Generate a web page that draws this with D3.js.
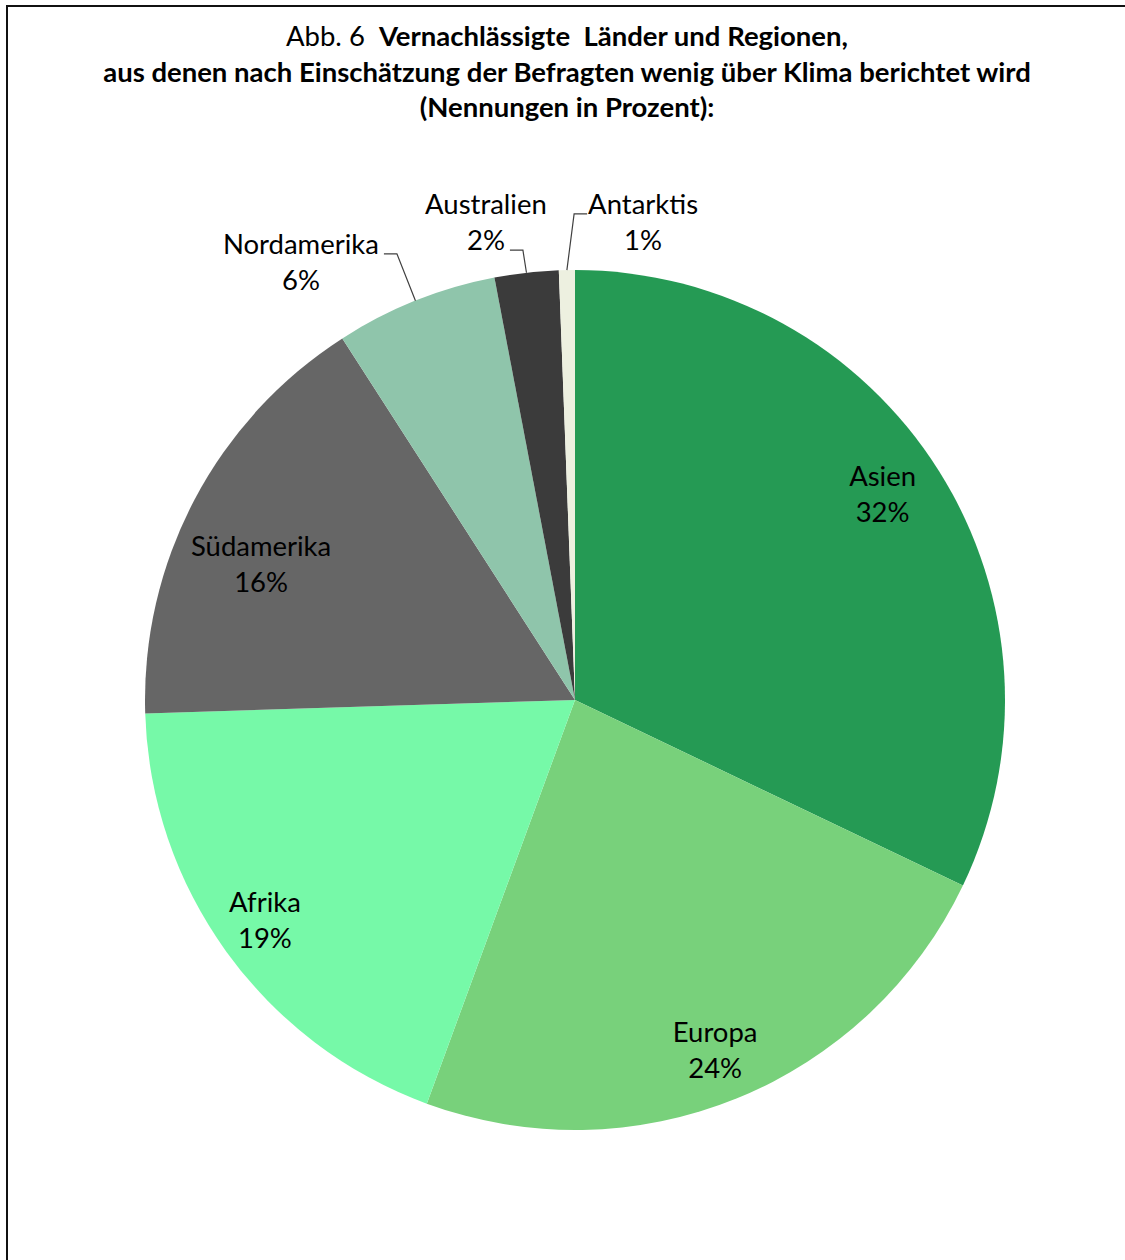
<!DOCTYPE html>
<html>
<head>
<meta charset="utf-8">
<script src="https://cdn.jsdelivr.net/npm/d3@7"></script>
<style>
  html, body { margin: 0; padding: 0; background: #fff; }
  svg { display: block; }
  text { font-family: Lato, "Open Sans", sans-serif; fill: #000; }
</style>
</head>
<body>
<div id="chart"></div>
<script>
// data (shares in percent, labels rounded)
var regions = ["Asien", "Europa", "Afrika", "Südamerika", "Nordamerika", "Australien", "Antarktis"];
var shares = [32.1, 23.5, 18.9, 16.4, 6.1, 2.4, 0.6];
var shareLabels = ["32%", "24%", "19%", "16%", "6%", "2%", "1%"];
var colors = ["#259a54", "#78d17b", "#76f9a8", "#666666", "#8fc5ab", "#3b3b3b", "#edf0e0"];

var titleLines = [
  [["Abb. 6  ", "normal"], ["Vernachlässigte  Länder und Regionen,", "bold"]],
  [["aus denen nach Einschätzung der Befragten wenig über Klima berichtet wird", "bold"]],
  [["(Nennungen in Prozent):", "bold"]]
];

// label placement (angle nudge in degrees from slice middle, radius factor)
var labelNudge = [-1.5, 0.4, 0.3, -4.4, -10.3, -4.1, 9.2];
var labelRadius = [0.86, 0.88, 0.886, 0.795, 1.2, 1.128, 1.121];
var leaderRow = [null, null, null, null, 0, 1, 0];

var width = 1125,
	height = 1260,
	cx = 575,
	cy = 700,
	radius = 430;

var svg = d3.select("#chart").append("svg")
	.attr("width", width)
	.attr("height", height);

//frame, runs off the right and bottom of the picture
svg.append("rect")
	.attr("x", 7).attr("y", 6)
	.attr("width", width + 20).attr("height", height + 20)
	.attr("fill", "none")
	.attr("stroke", "#111")
	.attr("stroke-width", 2);

//title
var titleBase = [46, 82, 117];
var titleSize = 26;
var title = svg.append("g");
titleLines.forEach(function(parts, i){
	var t = title.append("text")
		.attr("x", 567)
		.attr("y", titleBase[i])
		.attr("text-anchor", "middle")
		.attr("font-size", titleSize)
		.style("white-space", "pre");
	parts.forEach(function(p){
		t.append("tspan").attr("font-weight", p[1]).text(p[0]);
	});
});
//fit title to the width of the longest line (928px in the reference)
var line2 = title.selectAll("text").nodes()[1];
var scaleT = 928 / line2.getComputedTextLength();
title.selectAll("text").attr("font-size", titleSize * scaleT);

//pie
var pie = d3.pie().sort(null).value(function(d){ return d; });
var arcs = pie(shares);
var arc = d3.arc().innerRadius(0).outerRadius(radius);

var g = svg.append("g").attr("transform", "translate(" + cx + "," + cy + ")");

g.selectAll("path.slice")
	.data(arcs)
	.enter()
	.append("path")
	.attr("class", "slice")
	.attr("d", arc)
	.attr("fill", function(d, i){ return colors[i]; });

function polar(angle, r){
	return [r * Math.sin(angle), -r * Math.cos(angle)];
}

//labels
var labelSize = 24;
var labels = g.selectAll("g.label")
	.data(arcs)
	.enter()
	.append("g")
	.attr("class", "label")
	.attr("transform", function(d, i){
		var mid = (d.startAngle + d.endAngle) / 2 + labelNudge[i] * Math.PI / 180;
		var p = polar(mid, radius * labelRadius[i]);
		return "translate(" + p[0] + "," + p[1] + ")";
	});

labels.append("text")
	.attr("class", "l0")
	.attr("text-anchor", "middle")
	.attr("y", -9)
	.attr("font-size", labelSize)
	.text(function(d, i){ return regions[i]; });

labels.append("text")
	.attr("class", "l1")
	.attr("text-anchor", "middle")
	.attr("y", 27)
	.attr("font-size", labelSize)
	.text(function(d, i){ return shareLabels[i]; });

//fit label size so "Nordamerika" is 156px wide
var nord = labels.filter(function(d, i){ return i === 4; }).select("text.l0").node();
var scaleL = 156 / nord.getComputedTextLength();
labels.selectAll("text").attr("font-size", labelSize * scaleL);

//leader lines for the small slices outside the pie
labels.each(function(d, i){
	if (leaderRow[i] === null) return;
	var t = d3.select(this).select(leaderRow[i] === 0 ? "text.l0" : "text.l1").node();
	var w = t.getComputedTextLength();
	var mid = (d.startAngle + d.endAngle) / 2;
	var lp = polar(mid + labelNudge[i] * Math.PI / 180, radius * labelRadius[i]);
	var ty = lp[1] + (leaderRow[i] === 0 ? -9 : 27);
	var edge = polar(mid, radius);
	var pts;
	if (lp[0] < edge[0]) {
		//label on the left: line leaves its right side
		var x0 = lp[0] + w / 2 + 5;
		pts = [[x0, ty], [x0 + 13, ty], edge];
	} else {
		var x1 = lp[0] - w / 2 - 1;
		pts = [[x1, ty], [x1 - 13, ty], edge];
	}
	g.append("path")
		.attr("d", d3.line()(pts))
		.attr("fill", "none")
		.attr("stroke", "#404040")
		.attr("stroke-width", 1.2);
});
</script>
</body>
</html>
